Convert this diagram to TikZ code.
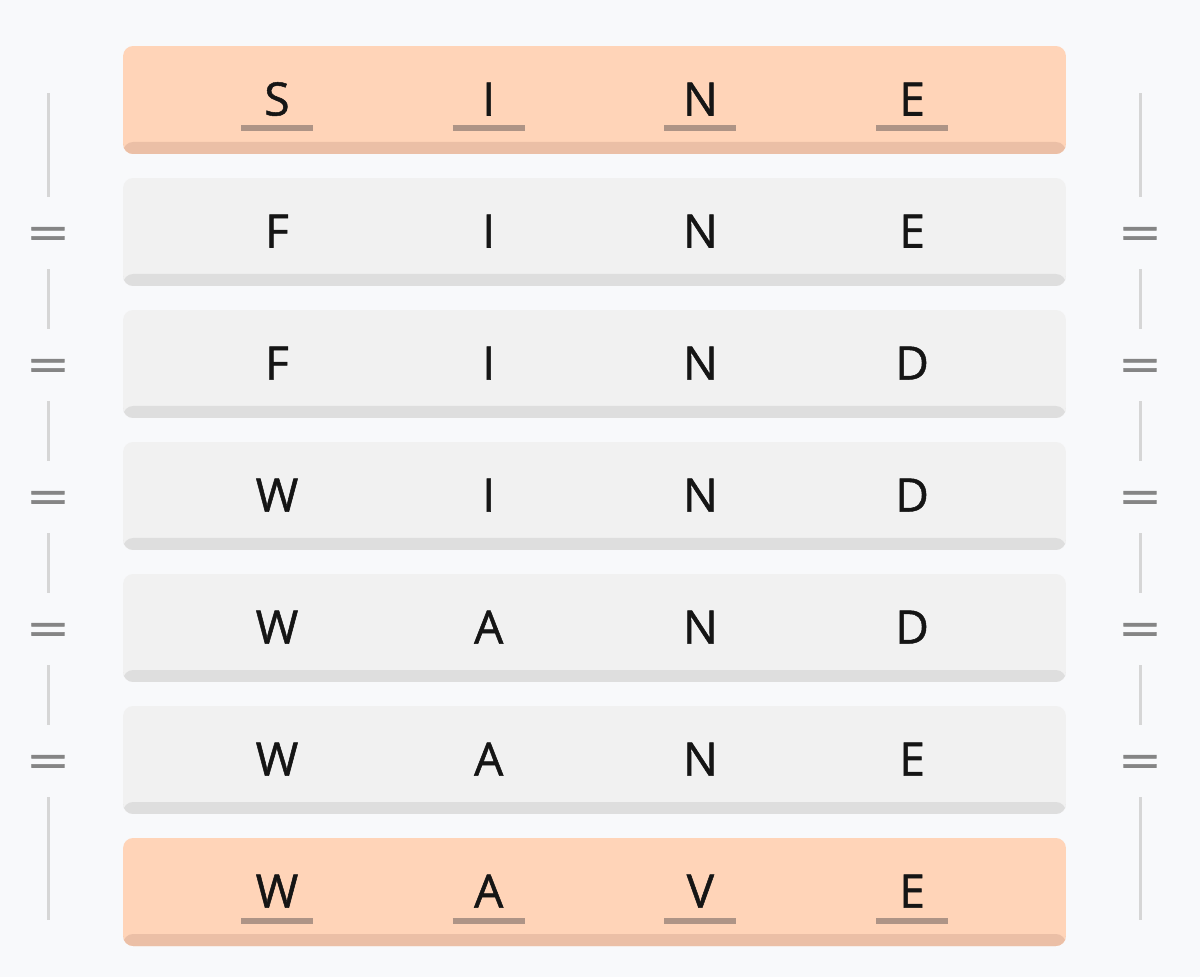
\documentclass[tikz,border=0pt]{standalone}
\usepackage{fontspec}
\setmainfont{Open Sans}
\usepackage{graphicx}
\definecolor{pagebg}{HTML}{F8F9FB}
\definecolor{peach}{HTML}{FFD4B8}
\definecolor{peachedge}{HTML}{EBBFA6}
\definecolor{rowgray}{HTML}{F1F1F1}
\definecolor{rowedge}{HTML}{DEDEDE}
\definecolor{markgray}{HTML}{AE9486}
\definecolor{railgray}{HTML}{D6D6D6}
\definecolor{eqgray}{HTML}{858585}
\definecolor{ink}{HTML}{151515}

\tikzset{
  rowbox/.style 2 args={rectangle, rounded corners=0.2cm, fill=#1,
    minimum width=18.86cm, minimum height=2.16cm, inner sep=0pt,
    path picture={\fill[#2] (path picture bounding box.south west)
      rectangle ([yshift=0.24cm]path picture bounding box.south east);}},
  peachrow/.style={rowbox={peach}{peachedge}},
  plainrow/.style={rowbox={rowgray}{rowedge}},
  letter/.style={anchor=base, inner sep=0pt, text=ink,
    font=\fontsize{26.2pt}{30pt}\selectfont\addfontfeature{FakeBold=1.1}},
  markline/.style={draw=markgray, line width=0.12cm},
  eqsign/.style={inner sep=0pt, minimum height=1.44cm, text=eqgray,
    font=\fontsize{26.2pt}{30pt}\selectfont\addfontfeature{FakeBold=1.3}},
  rail/.style={draw=railgray, line width=0.06cm}
}

\begin{document}
\begin{tikzpicture}[x=0.02cm, y=-0.02cm]
\useasboundingbox[fill=pagebg] (0,0) rectangle (1200,977);

% word rows
\foreach \word [count=\r] in {{S,I,N,E},{F,I,N,E},{F,I,N,D},{W,I,N,D},{W,A,N,D},{W,A,N,E},{W,A,V,E}}{
  \ifnum\r=1 \def\rowkind{peachrow}\else\ifnum\r=7 \def\rowkind{peachrow}\else\def\rowkind{plainrow}\fi\fi
  \node[\rowkind] (row\r) at (594.5, {100+132*(\r-1)}) {};
  \foreach \ch [count=\c] in \word
    \node[letter] (l\r\c) at ({277+211.7*(\c-1)}, {115.5+132*(\r-1)}) {\ch};
}

% underlined letters in first and last word
\foreach \r in {1,7}
  \foreach \c in {1,...,4}
    \draw[markline] ([xshift=-0.72cm, yshift=-0.26cm]l\r\c.base) -- ++(1.44cm,0);

% equal signs and rails at both sides
\foreach \side/\sx in {L/48, R/1140}{
  \coordinate (top\side) at (\sx, 93);
  \coordinate (bot\side) at (\sx, 920);
  \foreach \k in {1,...,5}
    \node[eqsign] (eq\side\k) at (\sx, {233+132*(\k-1)})
      {\raisebox{-0.36em}[0pt][0pt]{\scalebox{1.55}[1]{=}}};
  \draw[rail] (top\side) -- (eq\side1.north);
  \draw[rail] (eq\side1.south) -- (eq\side2.north);
  \draw[rail] (eq\side2.south) -- (eq\side3.north);
  \draw[rail] (eq\side3.south) -- (eq\side4.north);
  \draw[rail] (eq\side4.south) -- (eq\side5.north);
  \draw[rail] (eq\side5.south) -- (bot\side);
}
\end{tikzpicture}
\end{document}
